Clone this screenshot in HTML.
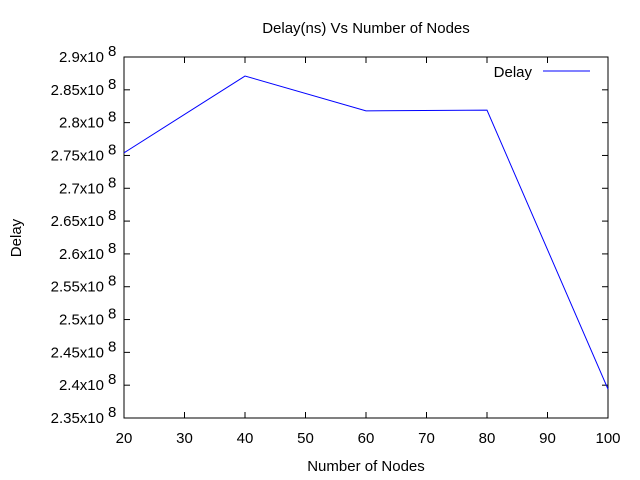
<!DOCTYPE html>
<html><head><meta charset="utf-8"><style>
body{margin:0;background:#fff;}
svg{display:block;font-family:"Liberation Sans",sans-serif;}
</style></head><body>
<svg id="chart" width="640" height="480">
<rect width="640" height="480" fill="#fff"/>
<text x="366" y="33" font-size="15" text-anchor="middle">Delay(ns) Vs Number of Nodes</text>
<text x="366" y="471" font-size="15" text-anchor="middle">Number of Nodes</text>
<text x="21" y="238" font-size="15" text-anchor="middle" transform="rotate(-90 21 238)">Delay</text>
<rect x="124" y="57" width="484" height="361" fill="none" stroke="#000" stroke-width="1"/>
<g id="ticks"></g>
<g id="series"></g>
<g>
<text x="532" y="77" font-size="15" text-anchor="end">Delay</text>
<line x1="543" y1="71" x2="590" y2="71" stroke="#0000ff" stroke-width="1"/>
</g>
</svg>
<script>
const categories=[20,40,60,80,100];
const delayValues=[2.754,2.871,2.818,2.819,2.394];
const xTicks=[20,30,40,50,60,70,80,90,100];
const yTickLabels=["2.35","2.4","2.45","2.5","2.55","2.6","2.65","2.7","2.75","2.8","2.85","2.9"];
const L=124,R=608,T=57,B=418;
const xs=v=>L+(v-20)/80*(R-L);
const ys=v=>B-(v-2.35)/0.55*(B-T);
const NS="http://www.w3.org/2000/svg";
const tg=document.getElementById('ticks');
function mk(tag,attrs,parent){const e=document.createElementNS(NS,tag);for(const k in attrs)e.setAttribute(k,attrs[k]);parent.appendChild(e);return e;}
xTicks.forEach(v=>{
 const x=xs(v);
 const a=mk('line',{x1:x,y1:B,x2:x,y2:B-6,stroke:'#000'},tg);
 
 
 const b=mk('line',{x1:x,y1:T,x2:x,y2:T+6,stroke:'#000'},tg);
 
 
 const t=mk('text',{x:x,y:443,'font-size':15,'text-anchor':'middle'},tg);
 t.textContent=v;
 
 
});
yTickLabels.forEach(s=>{
 const y=ys(parseFloat(s));
 const a=mk('line',{x1:L,y1:y,x2:L+6,y2:y,stroke:'#000'},tg);
 
 
 const b=mk('line',{x1:R,y1:y,x2:R-6,y2:y,stroke:'#000'},tg);
 
 
 const t=mk('text',{x:104,y:y+5,'font-size':15,'text-anchor':'end'},tg);
 t.textContent=s+'x10';
 
 
 const e=mk('text',{x:108,y:y-1,'font-size':15},tg);
 e.textContent='8';
 
 
});
const pts=categories.map((c,i)=>xs(c)+','+ys(delayValues[i])).join(' ');
const pl=mk('polyline',{points:pts,fill:'none',stroke:'#0000ff','stroke-width':1},document.getElementById('series'));


</script>
</body></html>
